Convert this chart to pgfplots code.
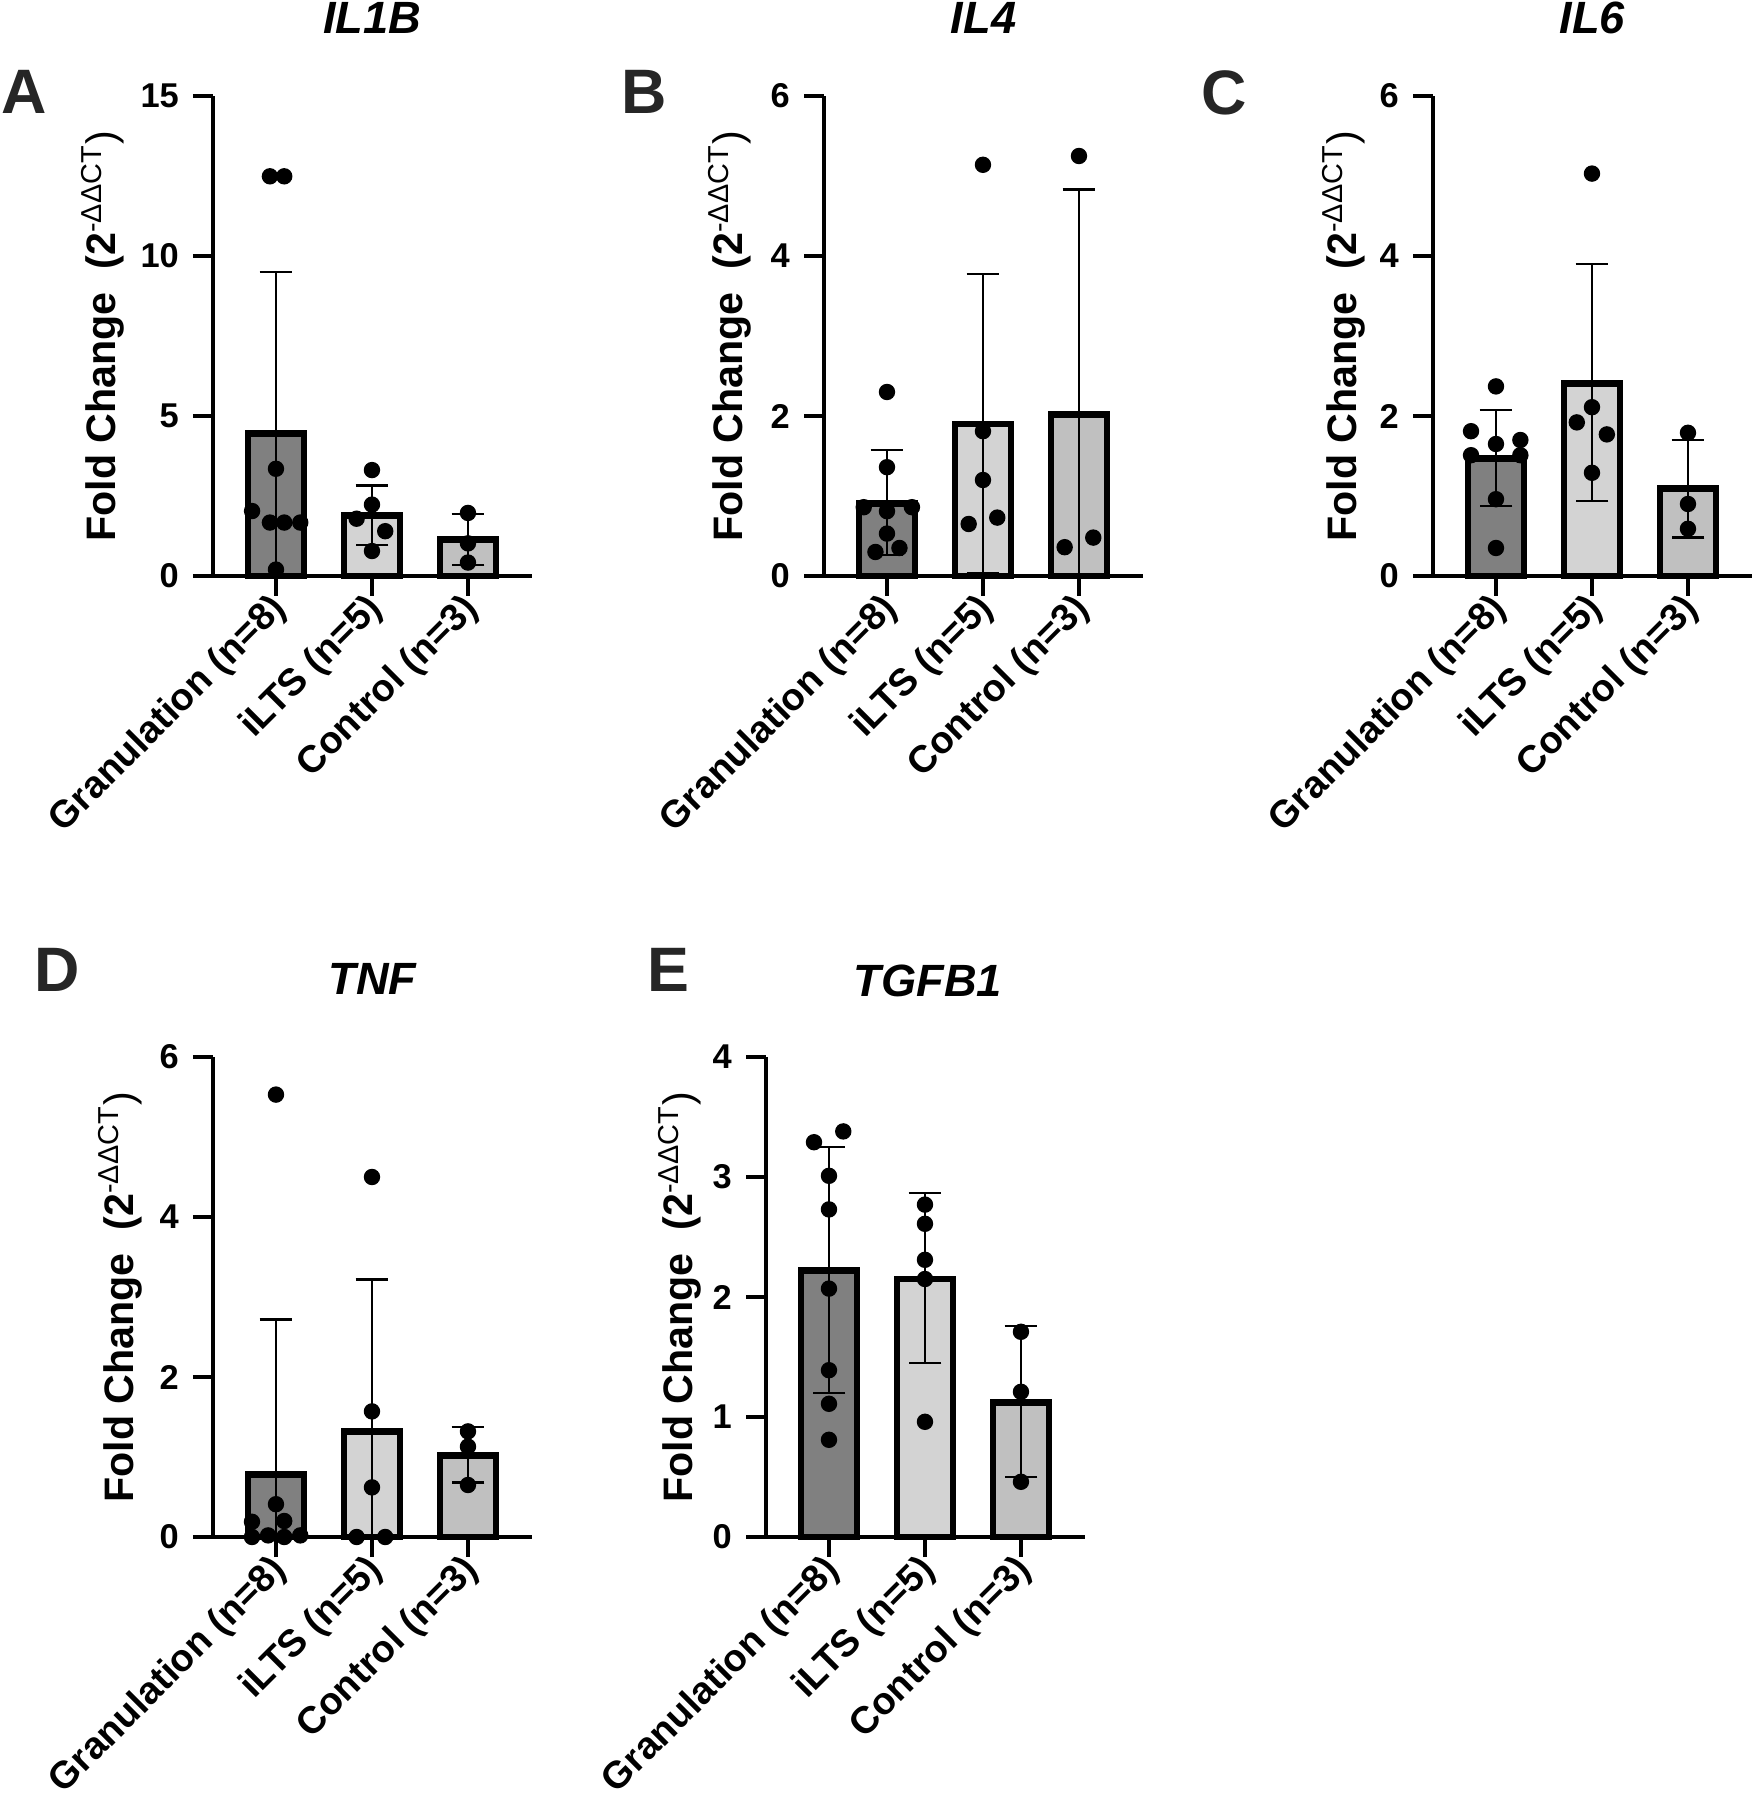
\documentclass[border=0pt]{standalone}
\usepackage{fontspec}
\setmainfont{Liberation Sans}
\usepackage{pgfplots}
\pgfplotsset{compat=1.18}

\definecolor{cGran}{HTML}{808080}
\definecolor{cILTS}{HTML}{D3D3D3}
\definecolor{cCtrl}{HTML}{C0C0C0}
\definecolor{cLetter}{HTML}{262626}

\pgfplotsset{
  panel/.style={
    scale only axis, width=79.75pt, height=120pt,
    anchor=south west,
    axis x line=bottom, axis y line=left,
    axis line style={-, line width=1.1pt, black},
    xmin=-0.656, xmax=2.667, ymin=0,
    xtick={0,1,2},
    xticklabels={Granulation (n=8), iLTS (n=5), Control (n=3)},
    tick align=outside, major tick length=5pt,
    tick style={line width=1.1pt, black},
    x tick label style={rotate=45, anchor=east, xshift=3pt, yshift=-2pt,
      font=\fontsize{9.5}{10}\selectfont\bfseries},
    y tick label style={font=\fontsize{8.6}{9}\selectfont\bfseries},
    /pgf/number format/assume math mode=true,
    clip=false,
    ylabel={\fontsize{10.3}{12}\selectfont\bfseries Fold Change\ \ (2\textsuperscript{\mdseries -ΔΔCT}\mdseries)},
  },
  gbar/.style={ybar, bar width=14pt, bar shift=0pt, draw=black, line width=1.7pt},
  eup/.style={draw=none, mark=none, error bars/.cd, y dir=plus, y explicit,
    error mark=|,
    error bar style={draw=black, solid, line width=0.55pt},
    error mark options={draw=black, solid, line width=0.55pt, mark size=4.1pt}},
  elo/.style={draw=none, mark=none, error bars/.cd, y dir=minus, y explicit,
    error mark=|,
    error bar style={draw=black, solid, line width=0.55pt},
    error mark options={draw=black, solid, line width=0.55pt, mark size=4.1pt}},
  ezero/.style={draw=none, mark=none, error bars/.cd, y dir=minus, y explicit,
    error mark=none,
    error bar style={draw=black, solid, line width=0.55pt}},
  dots/.style={only marks, mark=*, mark size=1.85pt, black},
}

\begin{document}
\begin{tikzpicture}
\path[use as bounding box] (0,0) rectangle (438.5pt,450pt);

% ---------------- A: IL1B ----------------
\begin{axis}[panel, at={(53.25pt,306pt)}, ymax=15, ytick={0,5,10,15},
  ylabel style={at={(axis description cs:-0.345,0.5)}, anchor=center}]
\addplot[gbar, fill=cGran] coordinates {(0,4.45)};
\addplot[gbar, fill=cILTS] coordinates {(1,1.90)};
\addplot[gbar, fill=cCtrl] coordinates {(2,1.14)};
\addplot[eup] coordinates {(0,4.45) +- (0,5.05) (1,1.90) +- (0,0.93) (2,1.14) +- (0,0.80)};
\addplot[elo] coordinates {(1,1.90) +- (0,0.93) (2,1.14) +- (0,0.80)};
\addplot[ezero] coordinates {(0,4.45) +- (0,4.45)};
\addplot[dots] coordinates {(-0.063,12.49) (0.086,12.49) (0,3.35) (-0.249,2.03) (-0.063,1.67) (0.086,1.67) (0.253,1.67) (0,0.20)
 (1,3.31) (1,2.23) (0.84,1.79) (1.138,1.40) (1,0.78)
 (2,1.97) (2,1.02) (2,0.42)};
\end{axis}

% ---------------- B: IL4 ----------------
\begin{axis}[panel, at={(206pt,306pt)}, ymax=6, ytick={0,2,4,6},
  ylabel style={at={(axis description cs:-0.295,0.5)}, anchor=center}]
\addplot[gbar, fill=cGran] coordinates {(0,0.91)};
\addplot[gbar, fill=cILTS] coordinates {(1,1.90)};
\addplot[gbar, fill=cCtrl] coordinates {(2,2.02)};
\addplot[eup] coordinates {(0,0.91) +- (0,0.66) (1,1.90) +- (0,1.87) (2,2.02) +- (0,2.81)};
\addplot[elo] coordinates {(0,0.91) +- (0,0.65) (1,1.90) +- (0,1.86)};
\addplot[ezero] coordinates {(2,2.02) +- (0,2.02)};
\addplot[dots] coordinates {(0,2.30) (0,1.36) (-0.242,0.86) (0,0.81) (0.26,0.86) (0,0.53) (-0.12,0.30) (0.13,0.35)
 (1,5.14) (1,1.81) (1,1.20) (0.851,0.65) (1.149,0.73)
 (2,5.25) (1.851,0.36) (2.149,0.48)};
\end{axis}

% ---------------- C: IL6 ----------------
\begin{axis}[panel, at={(358.25pt,306pt)}, ymax=6, ytick={0,2,4,6},
  ylabel style={at={(axis description cs:-0.28,0.5)}, anchor=center}]
\addplot[gbar, fill=cGran] coordinates {(0,1.47)};
\addplot[gbar, fill=cILTS] coordinates {(1,2.41)};
\addplot[gbar, fill=cCtrl] coordinates {(2,1.09)};
\addplot[eup] coordinates {(0,1.47) +- (0,0.60) (1,2.41) +- (0,1.49) (2,1.09) +- (0,0.61)};
\addplot[elo] coordinates {(0,1.47) +- (0,0.60) (1,2.41) +- (0,1.47) (2,1.09) +- (0,0.61)};
\addplot[dots] coordinates {(0,2.37) (-0.26,1.81) (0,1.65) (0.254,1.70) (-0.26,1.51) (0.254,1.51) (0,0.96) (0,0.35)
 (1,5.03) (1,2.11) (0.842,1.92) (1.155,1.77) (1,1.29)
 (2,1.79) (2,0.90) (2,0.59)};
\end{axis}

% ---------------- D: TNF ----------------
\begin{axis}[panel, at={(53.25pt,65.75pt)}, ymax=6, ytick={0,2,4,6},
  ylabel style={at={(axis description cs:-0.29,0.5)}, anchor=center}]
\addplot[gbar, fill=cGran] coordinates {(0,0.78)};
\addplot[gbar, fill=cILTS] coordinates {(1,1.32)};
\addplot[gbar, fill=cCtrl] coordinates {(2,1.02)};
\addplot[eup] coordinates {(0,0.78) +- (0,1.94) (1,1.32) +- (0,1.90) (2,1.02) +- (0,0.36)};
\addplot[elo] coordinates {(2,1.02) +- (0,0.34)};
\addplot[ezero] coordinates {(0,0.78) +- (0,0.78) (1,1.32) +- (0,1.32)};
\addplot[dots] coordinates {(0,5.53) (0,0.41) (-0.25,0.19) (0.086,0.20) (-0.25,0) (-0.082,0.02) (0.086,0) (0.253,0.02)
 (1,4.50) (1,1.57) (1,0.62) (0.84,0) (1.138,0)
 (2,1.32) (2,1.13) (2,0.65)};
\end{axis}

% ---------------- E: TGFB1 ----------------
\begin{axis}[panel, at={(191.5pt,65.75pt)}, ymax=4, ytick={0,1,2,3,4},
  ylabel style={at={(axis description cs:-0.27,0.5)}, anchor=center}]
\addplot[gbar, fill=cGran] coordinates {(0,2.22)};
\addplot[gbar, fill=cILTS] coordinates {(1,2.15)};
\addplot[gbar, fill=cCtrl] coordinates {(2,1.12)};
\addplot[eup] coordinates {(0,2.22) +- (0,1.03) (1,2.15) +- (0,0.72) (2,1.12) +- (0,0.64)};
\addplot[elo] coordinates {(0,2.22) +- (0,1.02) (1,2.15) +- (0,0.70) (2,1.12) +- (0,0.62)};
\addplot[dots] coordinates {(-0.156,3.29) (0.149,3.38) (0,3.01) (0,2.73) (0,2.07) (0,1.39) (0,1.11) (0,0.81)
 (1,2.77) (1,2.61) (1,2.31) (1,2.15) (1,0.96)
 (2,1.71) (2,1.21) (2,0.46)};
\end{axis}

% titles
\begin{scope}[every node/.style={font=\fontsize{11.3}{12}\selectfont\bfseries\itshape, inner sep=0pt}]
\node at (93.1pt,445.6pt) {IL1B};
\node at (245.9pt,445.6pt) {IL4};
\node at (398.1pt,445.6pt) {IL6};
\node at (93.1pt,205.25pt) {TNF};
\node at (232pt,204.75pt) {TGFB1};
\end{scope}
% panel letters
\begin{scope}[every node/.style={font=\fontsize{15.7}{17}\selectfont\bfseries, text=cLetter, inner sep=0pt}]
\node at (6.1pt,426.9pt) {A};
\node at (161pt,426.9pt) {B};
\node at (306pt,426.9pt) {C};
\node at (14.3pt,207.5pt) {D};
\node at (167.2pt,207.5pt) {E};
\end{scope}
\end{tikzpicture}
\end{document}
